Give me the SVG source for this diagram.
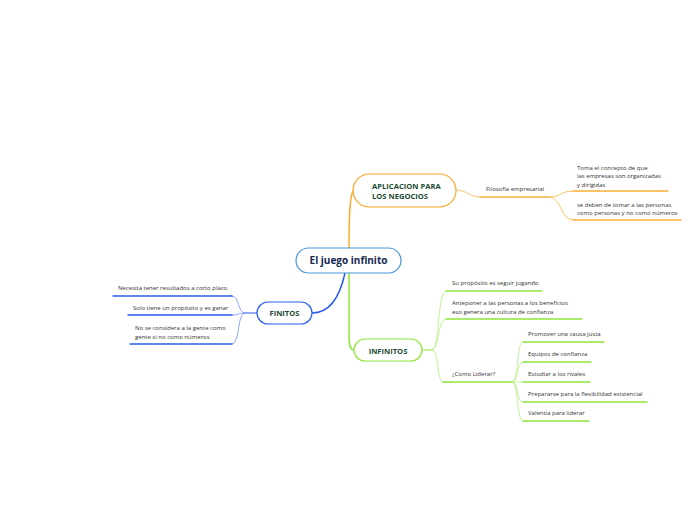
<svg xmlns="http://www.w3.org/2000/svg" width="696" height="520" viewBox="0 0 696 520">
<style>
text{font-family:"Open Sans","Noto Sans","Liberation Sans",sans-serif}
.leaf{font-size:6px;fill:#333333}
.main{font-size:7.6px;font-weight:bold;fill:#1c4a32}
.c{fill:none;stroke-linecap:round}
.o{stroke:#f9b038}
.ol{stroke:#fcc46a}
.b{stroke:#2a5cf0}
.bl{stroke:#6c8ff5}
.g{stroke:#8ee53f}
.gl{stroke:#b5ee80}
</style>
<rect width="696" height="520" fill="#ffffff"/>
<g id="connectors">
<path class="c o" stroke-width="1.5" d="M349,248 C349,212 350,192 354,190"/>
<path class="c b" stroke-width="1.5" d="M345,273 C340,296 330,313 312,313"/>
<path class="c g" stroke-width="1.5" d="M349,273 L349,335 C349,345 350,350 354,350"/>
<path class="c ol" stroke-width="1" d="M456,190 C467,190 469,197 480,197"/>
<path class="c o" stroke-width="1.3" d="M480,197 L549,197"/>
<path class="c ol" stroke-width="1" d="M549,197 C562,197 560,191 573,191"/>
<path class="c ol" stroke-width="1" d="M549,197 C562,197 560,220 573,220"/>
<path class="c o" stroke-width="1.3" d="M573,191 L668,191"/>
<path class="c o" stroke-width="1.3" d="M573,220 L681,220"/>
<path class="c b" stroke-width="1.2" d="M257,313 L245,313"/>
<path class="c bl" stroke-width="0.8" d="M245,313 C237,313 240,296 232,296"/>
<path class="c bl" stroke-width="0.8" d="M245,313 C238,313 239,315 232,315"/>
<path class="c bl" stroke-width="0.8" d="M245,313 C237,313 240,344 232,344"/>
<path class="c b" stroke-width="1.3" d="M113,296 L232,296"/>
<path class="c b" stroke-width="1.3" d="M128,315 L232,315"/>
<path class="c b" stroke-width="1.3" d="M130,344 L232,344"/>
<path class="c g" stroke-width="1.2" d="M422,350 L432,350"/>
<path class="c gl" stroke-width="0.8" d="M432,350 C440,350 437,291 446,291"/>
<path class="c gl" stroke-width="0.8" d="M432,350 C440,350 437,319 446,319"/>
<path class="c gl" stroke-width="0.8" d="M432,350 C440,350 436,382 443,382"/>
<path class="c g" stroke-width="1.3" d="M446,291 L542,291"/>
<path class="c g" stroke-width="1.3" d="M446,319 L582,319"/>
<path class="c g" stroke-width="1.3" d="M443,382 L512,382"/>
<path class="c gl" stroke-width="0.8" d="M512,382 C519,382 516,342 523,342"/>
<path class="c gl" stroke-width="0.8" d="M512,382 C519,382 516,362 523,362"/>
<path class="c gl" stroke-width="0.8" d="M512,382 L523,382"/>
<path class="c gl" stroke-width="0.8" d="M512,382 C519,382 516,402 523,402"/>
<path class="c gl" stroke-width="0.8" d="M512,382 C519,382 516,421 523,421"/>
<path class="c g" stroke-width="1.3" d="M523,342 L604,342"/>
<path class="c g" stroke-width="1.3" d="M523,362 L591,362"/>
<path class="c g" stroke-width="1.3" d="M523,382 L590,382"/>
<path class="c g" stroke-width="1.3" d="M523,402 L647,402"/>
<path class="c g" stroke-width="1.3" d="M523,421 L589,421"/>
</g>
<g id="central">
<rect x="296" y="248" width="105" height="25" rx="12.5" fill="#ffffff" stroke="#4a95d8" stroke-width="1.2"/>
<text x="348.5" y="264.3" text-anchor="middle" font-size="10" font-weight="bold" fill="#16284f">El juego infinito</text>
</g>
<g id="aplicacion">
<rect x="353" y="174" width="103" height="33" rx="16.5" fill="#ffffff" stroke="#f9a62a" stroke-width="1.2"/>
<text class="main" x="372" y="188.5" font-size="6.6">APLICACION PARA</text>
<text class="main" x="372" y="199" font-size="6.6">LOS NEGOCIOS</text>
</g>
<g id="filosofia">
<text class="leaf" x="486" y="191">Filosofía empresarial</text>
</g>
<g id="toma">
<text class="leaf" x="577" y="170">Toma el concepto de que</text>
<text class="leaf" x="577" y="178.3">las empresas son organizadas</text>
<text class="leaf" x="577" y="186.6">y dirigidas</text>
</g>
<g id="sedeben">
<text class="leaf" x="577" y="207">se deben de tomar a las personas</text>
<text class="leaf" x="577" y="215.3">como personas y no como números</text>
</g>
<g id="finitos">
<rect x="257" y="302" width="55" height="22" rx="11" fill="#ffffff" stroke="#2a5cf0" stroke-width="1.2"/>
<text class="main" x="284.5" y="315.8" text-anchor="middle">FINITOS</text>
</g>
<g id="necesita">
<text class="leaf" x="118" y="290">Necesita tener resultados a corto plazo</text>
</g>
<g id="solo">
<text class="leaf" x="133" y="310">Solo tiene un propósito y es ganar</text>
</g>
<g id="nose">
<text class="leaf" x="135" y="330">No se considera a la gente como</text>
<text class="leaf" x="135" y="339">gente si no como números</text>
</g>
<g id="infinitos">
<rect x="354" y="339" width="68" height="22" rx="11" fill="#ffffff" stroke="#8ee53f" stroke-width="1.2"/>
<text class="main" x="388" y="353.5" text-anchor="middle">INFINITOS</text>
</g>
<g id="suproposito">
<text class="leaf" x="452" y="285">Su propósito es seguir jugando</text>
</g>
<g id="anteponer">
<text class="leaf" x="452" y="305">Anteponer a las personas a los beneficios</text>
<text class="leaf" x="452" y="314">eso genera una cultura de confianza</text>
</g>
<g id="comoliderar">
<text class="leaf" x="452" y="375.5">¿Como Liderar?</text>
</g>
<g id="promover">
<text class="leaf" x="528" y="336">Promover una causa justa</text>
</g>
<g id="equipos">
<text class="leaf" x="528" y="356">Equipos de confianza</text>
</g>
<g id="estudiar">
<text class="leaf" x="528" y="376">Estudiar a los rivales</text>
</g>
<g id="prepararse">
<text class="leaf" x="528" y="396">Prepararse para la flexibilidad existencial</text>
</g>
<g id="valentia">
<text class="leaf" x="528" y="415">Valentía para liderar</text>
</g>
</svg>
